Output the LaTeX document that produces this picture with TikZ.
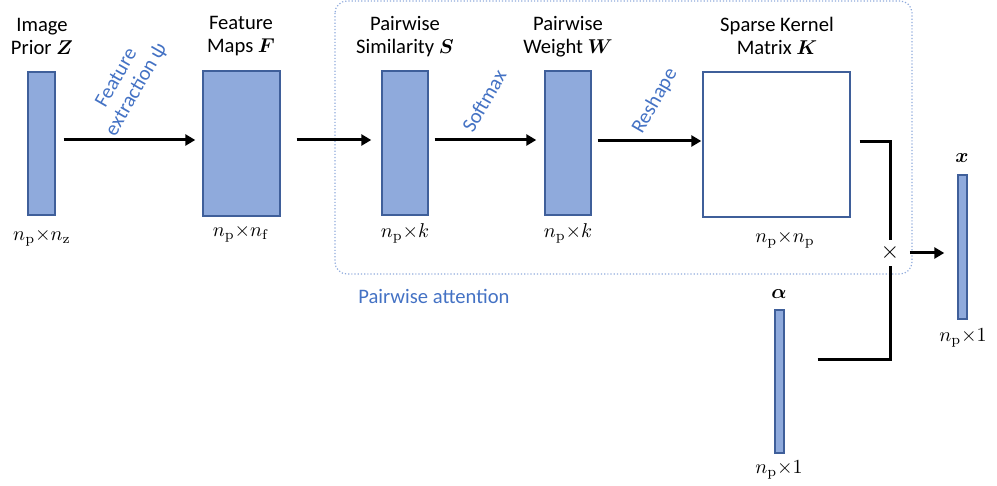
\documentclass[tikz,border=0pt]{standalone}
\usepackage{amsmath,bm}
\usepackage[no-math]{fontspec}
\setmainfont{Carlito}
\usetikzlibrary{arrows.meta,positioning}

\definecolor{matfill}{HTML}{8FAADC}
\definecolor{matline}{HTML}{3F5F9A}
\definecolor{opblue}{HTML}{4472C4}
\definecolor{grpline}{HTML}{8FAADC}

\tikzset{
  mat/.style={draw=matline, fill=matfill, line width=0.7pt, inner sep=0pt},
  flow/.style={line width=1.5pt, -{Triangle[length=5pt,width=5.5pt]}},
  link/.style={line width=1.5pt},
  op/.style={text=opblue, rotate=60, align=center, inner sep=0pt},
  title/.style={align=center, inner sep=0pt},
  dims/.style={inner sep=0pt}
}

\begin{document}
\begin{tikzpicture}[x=0.5pt, y=-0.5pt, font=\fontsize{10.3}{11.5}\selectfont]

        \useasboundingbox (0,0) rectangle (997,486);

        % pairwise attention block
        \draw[grpline, densely dotted, line width=0.6pt, rounded corners=6pt] (335,1) rectangle (912,274);
        \node[text=opblue, anchor=west, inner sep=0pt] (attn) at (358,296) {Pairwise attention};

        % matrices
        \node[mat, minimum width=13.5pt, minimum height=71.5pt] (Z) at (41.5,143.5) {};
        \node[mat, minimum width=38.5pt, minimum height=72.5pt] (F) at (241.5,143.5) {};
        \node[mat, minimum width=23pt, minimum height=72pt] (S) at (405,143) {};
        \node[mat, minimum width=23pt, minimum height=72pt] (W) at (568,143) {};
        \node[mat, fill=white, minimum width=73.5pt, minimum height=72.5pt] (K) at (776.5,144.5) {};
        \node[mat, minimum width=4.5pt, minimum height=71.5pt] (alpha) at (779.5,381.5) {};
        \node[mat, minimum width=4.5pt, minimum height=72pt] (xvec) at (962.5,247) {};

        % titles
        \node[title] (Zt) at (42,36.5) {Image\\Prior $\bm{Z}$};
        \node[title] (Ft) at (241,36.5) {Feature\\Maps $\bm{F}$};
        \node[title] (St) at (405,36.5) {Pairwise\\Similarity $\bm{S}$};
        \node[title] (Wt) at (568,36.5) {Pairwise\\Weight $\bm{W}$};
        \node[title] (Kt) at (777,36) {Sparse Kernel\\Matrix $\bm{K}$};
        \node[title] (at) at (779,294) {$\bm{\alpha}$};
        \node[title] (xt) at (962,158) {$\bm{x}$};

        % sizes
        \node[dims] (Zd) at (42,238) {$n_\mathrm{p}{\times}n_\mathrm{z}$};
        \node[dims] (Fd) at (241,234) {$n_\mathrm{p}{\times}n_\mathrm{f}$};
        \node[dims] (Sd) at (405,233) {$n_\mathrm{p}{\times}k$};
        \node[dims] (Wd) at (568,233) {$n_\mathrm{p}{\times}k$};
        \node[dims] (Kd) at (785,240) {$n_\mathrm{p}{\times}n_\mathrm{p}$};
        \node[dims] (ad) at (779,470) {$n_\mathrm{p}{\times}1$};
        \node[dims] (xd) at (963,338) {$n_\mathrm{p}{\times}1$};

        % operations
        \node[op] (psi) at (127,84) {Feature\\extraction ψ};
        \node[op] (soft) at (484,101) {Softmax};
        \node[op] (resh) at (655,101) {Reshape};

        \draw[flow, shorten <=4pt, shorten >=3.5pt] ([yshift=1.75pt]Z.east) -- ([yshift=1.75pt]Z.east -| F.west);
        \draw[flow, shorten <=8pt, shorten >=5pt] ([yshift=1.75pt]F.east) -- ([yshift=1.75pt]F.east -| S.west);
        \draw[flow, shorten <=3pt, shorten >=4pt] ([yshift=1.5pt]S.east) -- ([yshift=1.5pt]S.east -| W.west);
        \draw[flow, shorten <=3pt, shorten >=0.5pt] ([yshift=1pt]W.east) -- ([yshift=1pt]W.east -| K.west);

        % product
        \node[inner sep=0pt, minimum size=12.5pt, font=\large] (times) at (890,253) {$\times$};
        \draw[link] ([xshift=4.5pt,yshift=1.25pt]K.east) -| (times.north);
        \draw[link] ([xshift=16.5pt,yshift=10.75pt]alpha.east) -| (times.south);
        \draw[flow, shorten <=3.5pt, shorten >=6.5pt] (times.east) -- (times.east -| xvec.west);

    \end{tikzpicture}
\end{document}
